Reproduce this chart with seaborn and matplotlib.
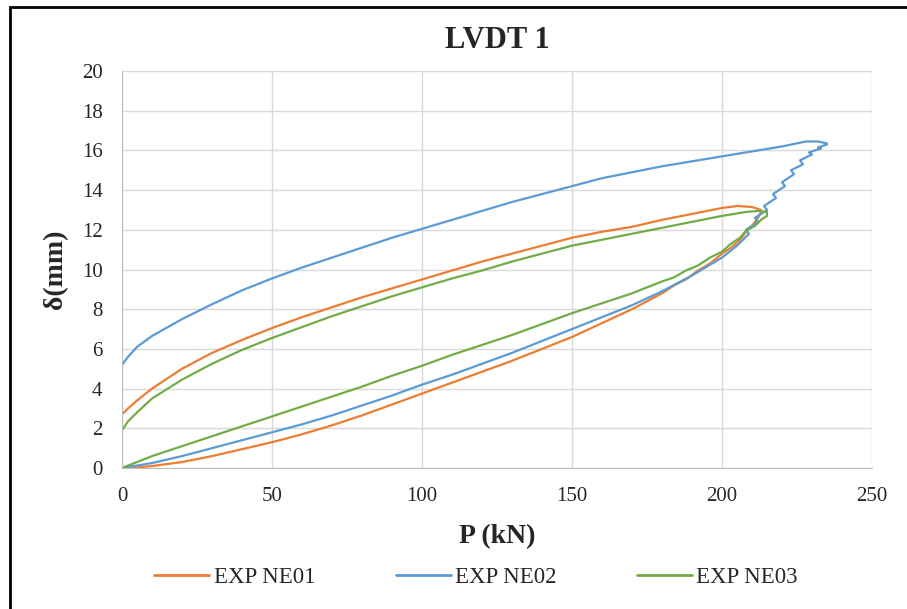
import numpy as np
import matplotlib
matplotlib.use("Agg")
import matplotlib.pyplot as plt
import pandas as pd
import seaborn as sns

# EXP NE01 (orange): loading branch then unloading branch
ne01_p = [3, 10, 20, 30, 40, 50, 60, 70, 80, 90, 100, 110, 120, 130, 140, 150, 160, 170,
          180, 184, 188, 192, 196, 200, 203, 206, 208, 210, 212, 213,
          213, 210, 205, 200, 190, 180, 170, 160, 150, 140, 130, 120, 110, 100, 90, 80,
          70, 60, 50, 40, 30, 20, 10, 5, 2, 0]
ne01_d = [0, 0.1, 0.3, 0.6, 0.95, 1.3, 1.7, 2.15, 2.65, 3.2, 3.75, 4.3, 4.85, 5.4, 6.0, 6.6, 7.3, 8.0,
          8.8, 9.2, 9.5, 9.95, 10.3, 10.8, 11.1, 11.5, 11.9, 12.2, 12.6, 12.9,
          13.0, 13.15, 13.2, 13.1, 12.8, 12.5, 12.15, 11.9, 11.6, 11.2, 10.8, 10.4, 9.95, 9.5, 9.05, 8.6,
          8.1, 7.6, 7.05, 6.45, 5.8, 5.0, 4.0, 3.4, 3.0, 2.7]

# EXP NE02 (blue)
ne02_p = [0, 10, 20, 30, 40, 50, 60, 70, 80, 90, 100, 110, 120, 130, 140, 150, 160, 170,
          180, 190, 200, 205, 209, 208, 212, 211, 215, 214, 218, 217, 221, 220, 224, 223,
          227, 226, 230, 229, 233, 232, 235,
          235, 232, 228, 220, 210, 200, 190, 180, 170, 160, 150, 140, 130, 120, 110, 100,
          90, 80, 70, 60, 50, 40, 30, 20, 10, 5, 2, 0]
ne02_d = [0, 0.25, 0.6, 1.0, 1.4, 1.8, 2.2, 2.65, 3.15, 3.65, 4.2, 4.7, 5.25, 5.8, 6.4, 7.0, 7.6, 8.2,
          8.9, 9.7, 10.6, 11.2, 11.8, 12.0, 12.4, 12.6, 13.0, 13.2, 13.6, 13.8, 14.2, 14.4, 14.8, 15.0,
          15.3, 15.5, 15.8, 15.9, 16.1, 16.15, 16.3,
          16.35, 16.45, 16.45, 16.2, 15.95, 15.7, 15.45, 15.2, 14.9, 14.6, 14.2, 13.8, 13.4, 12.95, 12.5, 12.05,
          11.6, 11.1, 10.6, 10.1, 9.55, 8.95, 8.25, 7.5, 6.65, 6.1, 5.6, 5.2]

# EXP NE03 (green)
ne03_p = [0, 10, 20, 30, 40, 50, 60, 70, 80, 90, 100, 110, 120, 130, 140, 150, 160, 170,
          180, 184, 188, 192, 196, 200, 203, 206, 208, 211, 213, 215,
          215, 212, 208, 200, 190, 180, 170, 160, 150, 140, 130, 120, 110, 100, 90, 80,
          70, 60, 50, 40, 30, 20, 10, 5, 2, 0]
ne03_d = [0, 0.6, 1.1, 1.6, 2.1, 2.6, 3.1, 3.6, 4.1, 4.65, 5.15, 5.7, 6.2, 6.7, 7.25, 7.8, 8.3, 8.8,
          9.4, 9.6, 9.95, 10.2, 10.6, 10.9, 11.3, 11.6, 11.95, 12.2, 12.5, 12.7,
          12.9, 12.95, 12.9, 12.7, 12.4, 12.1, 11.8, 11.5, 11.2, 10.8, 10.4, 9.95, 9.55, 9.1, 8.65, 8.15,
          7.65, 7.1, 6.55, 5.95, 5.25, 4.45, 3.5, 2.8, 2.35, 1.9]

labels = ["EXP NE01", "EXP NE02", "EXP NE03"]
colors = {"EXP NE01": "#ED7D31", "EXP NE02": "#5B9BD5", "EXP NE03": "#70AD47"}

frames = []
for lab, p, d in zip(labels, [ne01_p, ne02_p, ne03_p], [ne01_d, ne02_d, ne03_d]):
    frames.append(pd.DataFrame({"P": p, "d": d, "serie": lab}))
df = pd.concat(frames, ignore_index=True)

sns.set_style("white")
plt.rcParams["font.family"] = ["Liberation Serif", "DejaVu Serif"]

fig = plt.figure(figsize=(9.07, 6.09), dpi=100)
ax = fig.add_axes([0.1345, 0.2315, 0.8269, 0.6519])

sns.lineplot(data=df, x="P", y="d", hue="serie", palette=colors, sort=False,
             estimator=None, units="serie", linewidth=1.6, ax=ax, legend=False)

ax.set_xlim(0, 250)
ax.set_ylim(0, 20)
ax.set_xticks(np.arange(0, 251, 50))
ax.set_yticks(np.arange(0, 21, 2))
ax.grid(True, color="#D9D9D9", linewidth=1)
ax.set_axisbelow(True)
for s in ["top", "right"]:
    ax.spines[s].set_visible(False)
for s in ["left", "bottom"]:
    ax.spines[s].set_color("#BFBFBF")
ax.tick_params(axis="x", length=0, labelsize=15, colors="#262626", pad=14)
ax.tick_params(axis="y", length=0, labelsize=15, colors="#262626", pad=14)

ax.set_title("LVDT 1", fontsize=22, fontweight="bold", y=1.078, va="center", pad=0)
ax.set_xlabel("P (kN)", fontsize=20, fontweight="bold", va="center")
ax.set_ylabel("δ(mm)", fontsize=20, fontweight="bold", va="center")
ax.xaxis.set_label_coords(0.5, -0.174)
ax.yaxis.set_label_coords(-0.089, 0.5)

handles = [plt.Line2D([], [], color=colors[l], linewidth=2) for l in labels]
fig.legend(handles, labels, loc="center", bbox_to_anchor=(0.525, 0.051), ncol=3,
           frameon=False, fontsize=16.5, handlelength=2.4, handletextpad=0.2, columnspacing=3.5)

# outer frame like the source screenshot
fig.patches.append(plt.Rectangle((0.011, -0.01), 1.1, 0.998, transform=fig.transFigure,
                                 fill=False, edgecolor="black", linewidth=2))

fig.savefig("out.png", dpi=100)
